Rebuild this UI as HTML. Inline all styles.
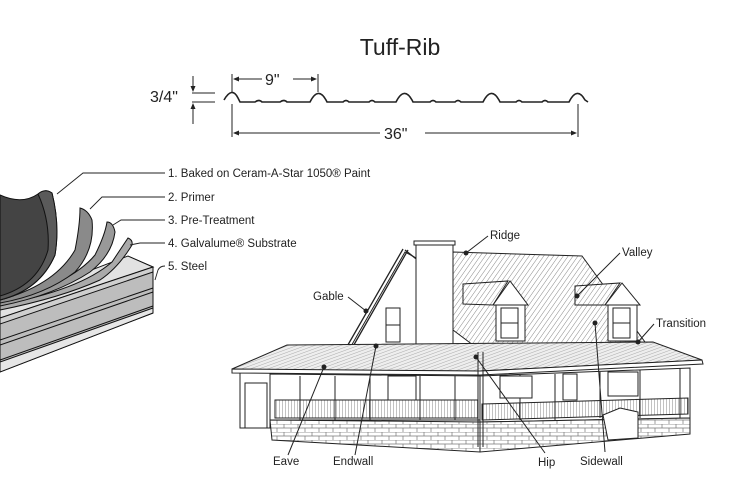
<!DOCTYPE html>
<html><head><meta charset="utf-8"><style>
html,body{margin:0;padding:0;background:#fff}
svg{display:block}
text{font-family:"Liberation Sans",sans-serif;fill:#222}
</style></head><body>
<svg width="740" height="498" viewBox="0 0 740 498" xmlns="http://www.w3.org/2000/svg">
<defs>
<pattern id="h1" width="4" height="4" patternUnits="userSpaceOnUse" patternTransform="rotate(35)"><rect width="4" height="4" fill="#fff"/><line x1="0" y1="0" x2="0" y2="4" stroke="#888" stroke-width="1"/></pattern>
<pattern id="h2" width="3" height="3" patternUnits="userSpaceOnUse" patternTransform="rotate(70)"><rect width="3" height="3" fill="#eee"/><line x1="0" y1="0" x2="0" y2="3" stroke="#999" stroke-width="0.8"/></pattern>
<pattern id="rail" width="3" height="3" patternUnits="userSpaceOnUse"><rect width="3" height="3" fill="#fff"/><line x1="0" y1="0" x2="0" y2="3" stroke="#666" stroke-width="0.8"/></pattern>
<pattern id="brick" width="14" height="8" patternUnits="userSpaceOnUse"><rect width="14" height="8" fill="#fff"/><path d="M0 0H14M0 4H14M4 0V4M11 4V8" stroke="#777" stroke-width="0.7" fill="none"/></pattern>
</defs>

<text x="400" y="55" font-size="23" text-anchor="middle">Tuff-Rib</text>

<g stroke="#222" fill="none" stroke-width="1.6">
<path d="M224 100 Q232 86 238 98 L240 102 L255 102 Q259 99 262 102 L280 102 Q284 99 287 102 L310 102 Q318 86 326 100 L327 102 L343 102 Q346 99 349 102 L369 102 Q372 99 375 102 L396 102 Q404 86 412 100 L413 102 L430 102 Q433 99 436 102 L455 102 Q458 99 461 102 L483 102 Q491 86 499 100 L500 102 L516 102 Q519 99 522 102 L542 102 Q545 99 548 102 L569 102 Q577 86 585 100 L588 102"/>
</g>
<g stroke="#222" stroke-width="1" fill="none">
<line x1="232" y1="74" x2="232" y2="92"/><line x1="318" y1="74" x2="318" y2="92"/>
<line x1="234" y1="79" x2="262" y2="79"/><line x1="293" y1="79" x2="316" y2="79"/>
<line x1="232" y1="104" x2="232" y2="137"/><line x1="578" y1="104" x2="578" y2="137"/>
<line x1="234" y1="133" x2="380" y2="133"/><line x1="425" y1="133" x2="576" y2="133"/>
<line x1="192" y1="93" x2="215" y2="93"/><line x1="192" y1="102" x2="215" y2="102"/>
<line x1="193" y1="76" x2="193" y2="91"/><line x1="193" y1="104" x2="193" y2="124"/>
</g>
<g fill="#222">
<path d="M233 79 l6 -2.5 v5z"/><path d="M317 79 l-6 -2.5 v5z"/>
<path d="M233 133 l6 -2.5 v5z"/><path d="M577 133 l-6 -2.5 v5z"/>
<path d="M193 92 l-2.5 -6 h5z"/><path d="M193 103 l-2.5 6 h5z"/>
</g>
<text x="265" y="85" font-size="16">9"</text>
<text x="384" y="139" font-size="16">36"</text>
<text x="150" y="102" font-size="16">3/4"</text>

<!-- Layers -->
<g stroke="#111" stroke-width="1">
<path d="M0 312 L130 257 L153 267 L153 313 L0 372 Z" fill="#bdbdbd"/>
<path d="M0 305 L128 256 L153 267 L0 318 Z" fill="#e2e2e2"/>
<path d="M0 318 L153 267 L153 272 L0 324 Z" fill="#cfcfcf"/>
<path d="M0 340 L153 288 M0 345 L153 292 M0 360 L153 306 M0 365 L153 310" fill="none"/>
<path d="M0 362 L153 308 L153 313 L0 372 Z" fill="#e6e6e6"/>
<!-- layer 4 -->
<path d="M0 305 Q80 290 112 262 Q120 250 128 238 Q133 240 132 245 Q118 268 100 280 Q60 298 0 310 Z" fill="#aaa"/>
<!-- layer 3 -->
<path d="M0 302 Q70 285 95 255 Q105 235 107 222 Q113 222 115 232 Q112 255 90 272 Q55 295 0 306 Z" fill="#999"/>
<!-- layer 2 -->
<path d="M0 300 Q55 285 75 250 Q80 225 80 208 Q88 210 92 220 Q95 250 75 272 Q45 295 0 303 Z" fill="#8a8a8a"/>
<!-- layer 1 -->
<path d="M0 195 Q22 205 38 194 Q45 188 52 193 Q60 225 55 255 Q40 290 0 300 Z" fill="#444"/>
<path d="M38 194 Q45 188 52 193 Q60 225 55 255 Q40 290 0 300 L0 296 Q38 285 48 250 Q50 220 38 194Z" fill="#5a5a5a"/>
</g>
<g stroke="#222" stroke-width="0.9" fill="none">
<path d="M165 173 H83 L57 194"/>
<path d="M165 197 H102 L90 209"/>
<path d="M165 220 H121 L113 225"/>
<path d="M165 243 H140 L130 245"/>
<path d="M165 266 Q160 266 158 270 L155 280"/>
</g>
<g font-size="11.5">
<text x="168" y="177">1. Baked on Ceram-A-Star 1050® Paint</text>
<text x="168" y="201">2. Primer</text>
<text x="168" y="224">3. Pre-Treatment</text>
<text x="168" y="247">4. Galvalume® Substrate</text>
<text x="168" y="270">5. Steel</text>
</g>

<!-- House -->
<g stroke="#222" stroke-width="1">
<path d="M453 252 L582 256 L645 342 L473 345 L453 330 Z" fill="url(#h1)"/>
<path d="M405 252 L350 348 L420 348 L420 260 Z" fill="#fff"/>
<path d="M403 249 L345 350 M408 250 L351 350 M405 250 L430 270" fill="none" stroke-width="1.3"/>
<rect x="386" y="308" width="14" height="34" fill="#fff"/><line x1="386" y1="325" x2="400" y2="325"/>
<rect x="416" y="244" width="37" height="106" fill="#fff"/>
<rect x="414" y="241" width="41" height="4" fill="#fff"/>
<path d="M463 284 L508 281 L493 305 L463 304 Z" fill="url(#h1)"/>
<path d="M493 305 L510 281 L528 305 Z" fill="#fff"/>
<rect x="496" y="305" width="29" height="36" fill="#fff"/>
<rect x="501" y="308" width="17" height="30" fill="#fff"/><line x1="501" y1="323" x2="518" y2="323"/>
<path d="M575 286 L620 283 L605 305 L575 305 Z" fill="url(#h1)"/>
<path d="M605 305 L622 283 L640 305 Z" fill="#fff"/>
<rect x="608" y="305" width="29" height="36" fill="#fff"/>
<rect x="613" y="308" width="17" height="30" fill="#fff"/><line x1="613" y1="323" x2="630" y2="323"/>
<rect x="240" y="372" width="30" height="56" fill="#fff"/>
<rect x="245" y="383" width="22" height="45" fill="#fff"/>
<path d="M270 374 L480 376 L480 420 L270 420 Z" fill="#fff"/>
<path d="M480 376 L690 368 L690 418 L480 422 Z" fill="#fff"/>
<rect x="275" y="400" width="203" height="18" fill="url(#rail)"/>
<path d="M482 404 L688 398 L688 414 L482 420 Z" fill="url(#rail)"/>
<path d="M270 420 L480 422 L480 452 L272 440 Z" fill="url(#brick)"/>
<path d="M480 422 L690 418 L690 434 L480 452 Z" fill="url(#brick)"/>
<path d="M300 376 V420 M335 376 V420 M370 376 V420 M420 376 V420 M455 376 V420 M520 375 V420 M555 374 V420 M600 372 V418 M640 370 V418 M680 368 V418" fill="none"/>
<rect x="500" y="376" width="32" height="22" fill="#fff"/>
<rect x="563" y="374" width="14" height="26" fill="#fff"/>
<rect x="608" y="372" width="30" height="24" fill="#fff"/>
<rect x="388" y="376" width="28" height="24" fill="#fff"/>
<path d="M603 415 L620 408 L638 412 L638 438 L608 440 Z" fill="#fff"/>
<path d="M232 369 L287 345 L653 342 L702 360 L480 371 L258 370 Z" fill="url(#h2)"/>
<path d="M232 369 L480 371 L702 360 L703 364 L480 375 L232 373 Z" fill="#fff"/>
<path d="M478 352 V447 M483 352 V447" fill="none"/>
</g>

<g stroke="#222" stroke-width="1" fill="none">
<path d="M466 253 L488 236"/>
<path d="M577 296 L620 253"/>
<path d="M366 311 L348 297"/>
<path d="M638 342 L654 324"/>
<path d="M595 323 L605 452"/>
<path d="M476 357 L545 453"/>
<path d="M376 346 L355 455"/>
<path d="M324 367 L288 455"/>
</g>
<g fill="#222">
<circle cx="466" cy="253" r="2.5"/><circle cx="577" cy="296" r="2.5"/><circle cx="366" cy="311" r="2.5"/>
<circle cx="638" cy="342" r="2.5"/><circle cx="595" cy="323" r="2.5"/><circle cx="476" cy="357" r="2.5"/>
<circle cx="376" cy="346" r="2.5"/><circle cx="324" cy="367" r="2.5"/>
</g>
<g font-size="11.5">
<text x="490" y="239">Ridge</text>
<text x="622" y="256">Valley</text>
<text x="313" y="300">Gable</text>
<text x="656" y="327">Transition</text>
<text x="580" y="465">Sidewall</text>
<text x="538" y="466">Hip</text>
<text x="333" y="465">Endwall</text>
<text x="273" y="465">Eave</text>
</g>
</svg>
</body></html>
